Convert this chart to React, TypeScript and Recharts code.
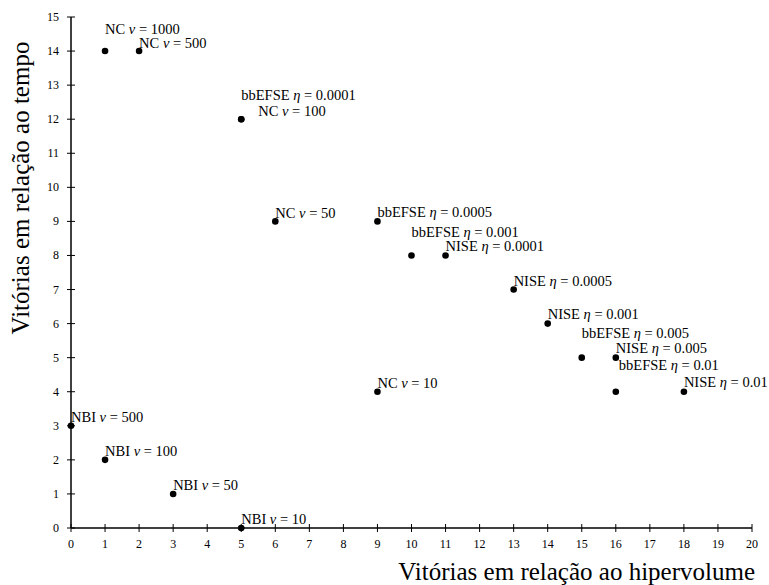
import React from "react";
import { ScatterChart, Scatter, XAxis, YAxis, Label } from "recharts";

// ------------------------------------------------------------------
// Vitórias: hipervolume x tempo — scatter with annotated methods
// ------------------------------------------------------------------

const methods = [
  "NC", "NC", "NC", "bbEFSE", "NC", "bbEFSE", "bbEFSE", "NISE", "NISE", "NISE",
  "bbEFSE", "NISE", "bbEFSE", "NISE", "NC", "NBI", "NBI", "NBI", "NBI",
];
const paramSymbols = [
  "ν", "ν", "ν", "η", "ν", "η", "η", "η", "η", "η",
  "η", "η", "η", "η", "ν", "ν", "ν", "ν", "ν",
];
const paramValues = [
  "1000", "500", "100", "0.0001", "50", "0.0005", "0.001", "0.0001", "0.0005", "0.001",
  "0.005", "0.005", "0.01", "0.01", "10", "500", "100", "50", "10",
];
const hvWins = [1, 2, 5, 5, 6, 9, 10, 11, 13, 14, 15, 16, 16, 18, 9, 0, 1, 3, 5];
const timeWins = [14, 14, 12, 12, 9, 9, 8, 8, 7, 6, 5, 5, 4, 4, 4, 3, 2, 1, 0];

const xTicks = Array.from({ length: 21 }, (_, i) => i);
const yTicks = Array.from({ length: 16 }, (_, i) => i);

const data = hvWins.map((x, i) => ({
  x,
  y: timeWins[i],
  method: methods[i],
  sym: paramSymbols[i],
  val: paramValues[i],
}));

// label nudges (dx, baseline dy relative to point) to avoid overlaps
const labelOffset: Record<string, [number, number]> = {
  "NC 1000": [0, -17],
  "NC 500": [0, -3],
  "bbEFSE 0.0001": [0, -19],
  "NC 100": [17, -3],
  "NC 50": [0, -3],
  "bbEFSE 0.001": [0, -18],
  "NISE 0.001": [0, -5],
  "bbEFSE 0.005": [0, -20],
  "NISE 0.005": [0, -5],
  "bbEFSE 0.01": [3, -22],
  "NISE 0.01": [0, -5],
};

const FONT = "'Liberation Serif', 'DejaVu Serif', serif";

function PointShape(props: any) {
  const { cx, cy, payload } = props;
  const key = `${payload.method} ${payload.val}`;
  const [dx, dy] = labelOffset[key] ?? [0, -4];
  return (
    <g>
      <circle cx={cx} cy={cy} r={3.3} fill="#000" />
      <text x={cx + dx} y={cy + dy} fontFamily={FONT} fontSize={14.5} fill="#000">
        {payload.method + " "}
        <tspan fontStyle="italic">{payload.sym}</tspan>
        {" = " + payload.val}
      </text>
    </g>
  );
}

function XTick({ x, y, payload }: any) {
  return (
    <g>
      <line x1={x} x2={x} y1={y - 4} y2={y + 4} stroke="#000" strokeWidth={1} />
      <text x={x} y={y + 20} textAnchor="middle" fontFamily={FONT} fontSize={12} fill="#000">
        {payload.value}
      </text>
    </g>
  );
}

function YTick({ x, y, payload }: any) {
  return (
    <g>
      <line x1={x - 4} x2={x + 4} y1={y} y2={y} stroke="#000" strokeWidth={1} />
      <text x={x - 12} y={y + 4} textAnchor="end" fontFamily={FONT} fontSize={12} fill="#000">
        {payload.value}
      </text>
    </g>
  );
}

function XTitle({ viewBox }: any) {
  const { x, y, width } = viewBox;
  return (
    <text x={x + width + 3} y={y + 52} textAnchor="end" fontFamily={FONT} fontSize={25} fill="#000">
      Vitórias em relação ao hipervolume
    </text>
  );
}

function YTitle({ viewBox }: any) {
  const { x, y } = viewBox;
  const tx = x + 29;
  const ty = y + 171;
  return (
    <text
      x={tx}
      y={ty}
      textAnchor="middle"
      transform={`rotate(-90, ${tx}, ${ty})`}
      fontFamily={FONT}
      fontSize={25}
      fill="#000"
    >
      Vitórias em relação ao tempo
    </text>
  );
}

export default function App() {
  return (
    <div style={{ width: 769, height: 585, background: "#fff" }}>
      <style>{"body{margin:0}"}</style>
      <ScatterChart width={769} height={585} margin={{ top: 17, right: 17, bottom: 0, left: 0 }}>
        <XAxis
          type="number"
          dataKey="x"
          domain={[0, 20]}
          ticks={xTicks}
          interval={0}
          height={57}
          tickSize={0}
          tickMargin={0}
          tickLine={false}
          tick={<XTick />}
          axisLine={{ stroke: "#000", strokeWidth: 1.5 }}
        >
          <Label content={<XTitle />} />
        </XAxis>
        <YAxis
          type="number"
          dataKey="y"
          domain={[0, 15]}
          ticks={yTicks}
          interval={0}
          width={71}
          tickSize={0}
          tickMargin={0}
          tickLine={false}
          tick={<YTick />}
          axisLine={{ stroke: "#000", strokeWidth: 1.5 }}
        >
          <Label content={<YTitle />} />
        </YAxis>
        <Scatter data={data} shape={PointShape} isAnimationActive={false} />
      </ScatterChart>
    </div>
  );
}
